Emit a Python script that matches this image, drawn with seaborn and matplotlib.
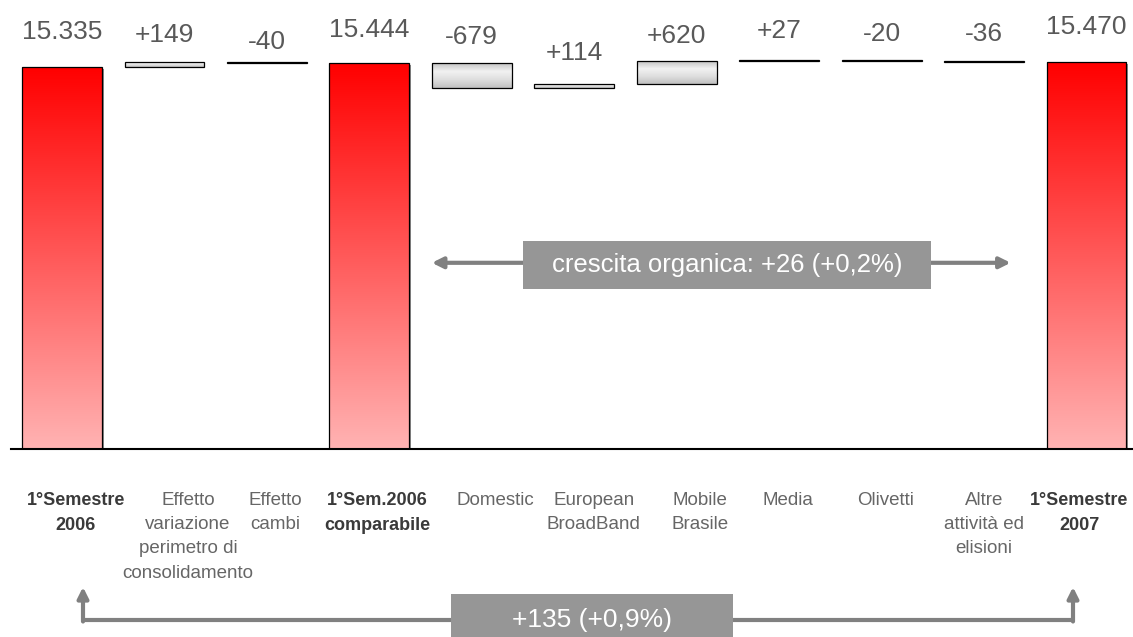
import numpy as np
import pandas as pd
import matplotlib
matplotlib.use("Agg")
import matplotlib.pyplot as plt
from matplotlib.patches import Rectangle
from matplotlib.colors import LinearSegmentedColormap
import seaborn as sns

# dati (milioni di euro)
categorie = ["1°Semestre\n2006", "Effetto\nvariazione\nperimetro di\nconsolidamento",
             "Effetto\ncambi", "1°Sem.2006\ncomparabile", "Domestic",
             "European\nBroadBand", "Mobile\nBrasile", "Media", "Olivetti",
             "Altre\nattività ed\nelisioni", "1°Semestre\n2007"]
valori = [15335, 149, -40, 15444, -679, 114, 620, 27, -20, -36, 15470]
totale = [True, False, False, True, False, False, False, False, False, False, True]
testo_organica = "crescita organica: +26 (+0,2%)"
testo_totale = "+135 (+0,9%)"

# asse interrotto: la scala parte da ~4.900
y_min, y_max = 4926, 17161

# calcolo base/cima delle barre del waterfall
basi, cime = [], []
livello = 0
for v, tot in zip(valori, totale):
    if tot:
        livello = v
        basi.append(y_min)
        cime.append(v)
    else:
        nuovo = livello + v
        basi.append(min(livello, nuovo))
        cime.append(max(livello, nuovo))
        livello = nuovo

df = pd.DataFrame({"voce": categorie, "cima": cime, "base": basi, "totale": totale})

sns.set_theme(style="white")
plt.rcParams["font.family"] = ["Liberation Sans", "DejaVu Sans"]

fig = plt.figure(figsize=(11.33, 6.37), dpi=100)
ax = fig.add_axes([11 / 1133, 188 / 637, 1 - 11 / 1133, 449 / 637])

sns.barplot(data=df, x="voce", y="cima", ax=ax, width=0.78, color="white",
            edgecolor="black", linewidth=0.9)

rossi = LinearSegmentedColormap.from_list("rossi", ["#ffb3b3", "#ff0000"])
grigi = LinearSegmentedColormap.from_list("grigi", ["#c4c4c4", "#f2f2f2", "#dedede", "#c0c0c0"])
grad = np.linspace(0, 1, 256).reshape(-1, 1)

for i, p in enumerate(ax.patches):
    p.set_y(df["base"][i])
    p.set_height(df["cima"][i] - df["base"][i])
    p.set_facecolor("none")
    p.set_zorder(3)
    x0 = p.get_x()
    x1 = x0 + p.get_width()
    cmap = rossi if df["totale"][i] else grigi
    g = grad if df["totale"][i] else grad[::-1]
    im = ax.imshow(g, cmap=cmap, aspect="auto", origin="lower",
                   extent=[x0, x1, df["base"][i], df["cima"][i]], zorder=2)
    im.set_clip_path(p)
    if df["totale"][i]:
        # leggera ombra a destra delle barre rosse
        ax.add_patch(Rectangle((x1, df["base"][i]), 0.02, p.get_height() - 60,
                               facecolor="#8c8c8c", edgecolor="none", zorder=1))

ax.set_xlim(-0.498, 10.454)
ax.set_ylim(y_min, y_max)

# etichette dei valori
offset = [25, 19, 14, 24, 19, 22, 18, 21, 19, 19, 25]
for i, (v, tot) in enumerate(zip(valori, totale)):
    txt = f"{v:,}".replace(",", ".") if tot else f"{v:+d}"
    ax.annotate(txt, (i, df["cima"][i]), xytext=(0, offset[i]), textcoords="offset points",
                ha="center", va="center", fontsize=19, color="#595959")

# assi
for s in ["top", "left", "right"]:
    ax.spines[s].set_visible(False)
ax.spines["bottom"].set_color("black")
ax.spines["bottom"].set_linewidth(1.5)
ax.set_yticks([])
ax.set_xticks([])
ax.set_xlabel("")
ax.set_ylabel("")

# etichette delle categorie (caselle di testo leggermente spostate come nella slide)
sposta = [10, 17, 6, 6, 17, 14, 17, 6, 3, 0, -5]
for i, (lab, tot) in enumerate(zip(categorie, totale)):
    ax.annotate(lab, (i, y_min), xytext=(sposta[i], -31), textcoords="offset points",
                ha="center", va="top", ma="center", fontsize=13 if tot else 13.5,
                linespacing=1.6 if tot else 1.55,
                color="#3a3a3a" if tot else "#666666",
                fontweight="bold" if tot else "normal", annotation_clip=False)

# freccia crescita organica
ax.annotate("", xy=(3.61, 10000), xytext=(9.26, 10000),
            arrowprops=dict(arrowstyle="<|-|>", color="#808080", lw=3, mutation_scale=16,
                            shrinkA=0, shrinkB=0), zorder=4)
ax.add_patch(Rectangle((4.5, 9286), 3.98, 1308, facecolor="#969696", edgecolor="none", zorder=5))
ax.text(6.49, 9940, testo_organica, ha="center", va="center", fontsize=18.5, color="white", zorder=6)

# freccia variazione totale (in basso)
tr = fig.dpi_scale_trans
ax.annotate("", xy=(10.73, 0.17), xytext=(0.83, 0.17), xycoords=tr, textcoords=tr,
            arrowprops=dict(arrowstyle="-", color="#808080", lw=3, shrinkA=0, shrinkB=0))
for xp in [0.83, 10.73]:
    ax.annotate("", xy=(xp, 0.50), xytext=(xp, 0.155), xycoords=tr, textcoords=tr,
                arrowprops=dict(arrowstyle="-|>", color="#808080", lw=3, mutation_scale=16,
                                shrinkA=0, shrinkB=0))
fig.add_artist(Rectangle((4.51, 0), 2.82, 0.43, transform=tr, facecolor="#969696",
                         edgecolor="none", zorder=5))
fig.text(5.92 / 11.33, 0.17 / 6.37, testo_totale, ha="center", va="center",
         fontsize=19, color="white", zorder=6)

fig.savefig("out.png", dpi=100)
